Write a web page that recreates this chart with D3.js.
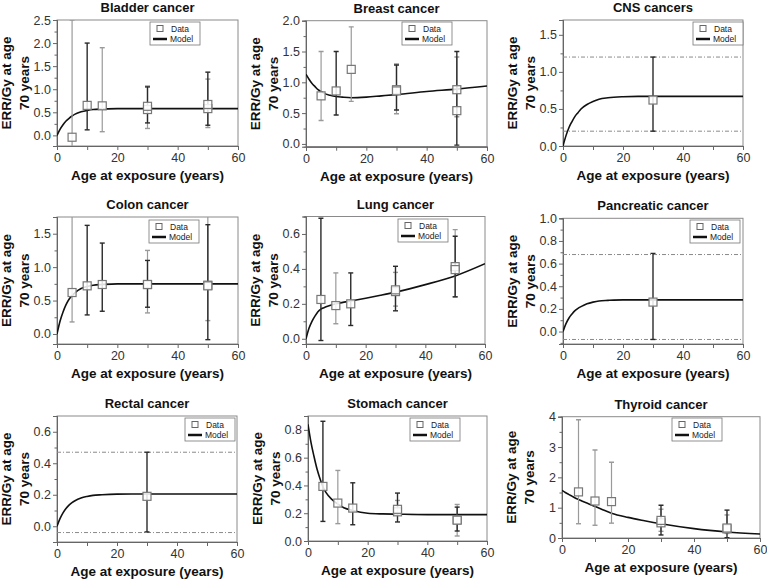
<!DOCTYPE html>
<html><head><meta charset="utf-8">
<script src="https://cdn.jsdelivr.net/npm/d3@7"></script>
<style>
body{margin:0;background:#fff;}
svg{font-family:Arial,"Liberation Sans",sans-serif;}
</style></head>
<body><svg id="c" width="767" height="581"></svg>
<script>
// ---------- DATA ----------
const titles = ["Bladder cancer","Breast cancer","CNS cancers","Colon cancer","Lung cancer","Pancreatic cancer","Rectal cancer","Stomach cancer","Thyroid cancer"];
const xTicks = [0,20,40,60];
const xMinorTicks = [10,30,50];
const modelAges = [0,1,2,3,4,5,6,8,10,12,15,20,25,30,40,50,60];

// points: [age, ERR/Gy, lower, upper, dark(1)/grey(0)]
const bladderPts = [[5,-0.04,-0.6,2.5,0],[10,0.65,0.12,2.0,1],[15,0.64,0.08,1.9,0],[30,0.56,0.15,1.07,0],[30,0.63,0.27,1.05,1],[50,0.58,0.17,1.22,0],[50,0.67,0.22,1.37,1]];
const breastPts = [[5,0.78,0.38,1.5,0],[10,0.86,0.47,1.5,1],[15,1.21,0.69,1.9,0],[30,0.88,0.49,1.30,0],[30,0.86,0.55,1.28,1],[50,0.54,0.44,1.41,0],[50,0.88,-0.02,1.5,1]];
const cnsPts = [[30,0.62,0.2,1.2,1]];
const colonPts = [[5,0.62,0.18,2.0,0],[10,0.72,0.285,1.625,1],[15,0.74,0.34,1.36,1],[30,0.74,0.315,1.25,0],[30,0.74,0.40,1.10,1],[50,0.73,0.20,2.0,0],[50,0.72,-0.085,1.635,1]];
const lungPts = [[5,0.225,-0.01,0.69,1],[10,0.19,0.086,0.377,0],[15,0.20,0.076,0.377,1],[30,0.27,0.187,0.38,0],[30,0.28,0.16,0.415,1],[50,0.413,0.24,0.625,0],[50,0.396,0.24,0.587,1]];
const pancreaticPts = [[30,0.26,-0.07,0.69,1]];
const rectalPts = [[30,0.19,-0.036,0.47,1]];
const stomachPts = [[5,0.393,0.141,0.862,1],[10,0.273,0.125,0.508,0],[15,0.237,0.117,0.419,1],[30,0.21,0.19,0.292,0],[30,0.228,0.137,0.345,1],[50,0.153,0.036,0.263,0],[50,0.15,0.072,0.244,1]];
const thyroidPts = [[5,1.52,0.47,3.9,0],[10,1.22,0.42,2.9,0],[15,1.2,0.49,2.5,0],[30,0.5,0.22,0.95,0],[30,0.58,0.1,1.08,1],[50,0.3,0.15,0.76,0],[50,0.33,0.01,0.92,1]];

// model curves at modelAges
const bladderModel = [0,0.13,0.23,0.31,0.37,0.42,0.46,0.51,0.54,0.56,0.57,0.58,0.58,0.58,0.58,0.58,0.58];
const breastModel = [1.13,1.05,0.98,0.93,0.88,0.85,0.82,0.79,0.77,0.76,0.75,0.76,0.78,0.80,0.85,0.89,0.94];
const cnsModel = [0,0.14,0.25,0.33,0.40,0.45,0.50,0.56,0.60,0.63,0.65,0.665,0.67,0.67,0.67,0.67,0.67];
const colonModel = [0,0.19,0.33,0.44,0.52,0.575,0.62,0.68,0.71,0.73,0.74,0.75,0.75,0.75,0.75,0.75,0.75];
const lungModel = [0,0.06,0.10,0.13,0.155,0.17,0.178,0.19,0.20,0.207,0.216,0.232,0.249,0.267,0.31,0.36,0.43];
const pancreaticModel = [0,0.07,0.12,0.155,0.185,0.205,0.22,0.245,0.26,0.27,0.275,0.28,0.28,0.28,0.28,0.28,0.28];
const rectalModel = [0,0.048,0.085,0.113,0.134,0.150,0.162,0.179,0.189,0.196,0.200,0.204,0.205,0.205,0.205,0.205,0.205];
const stomachModel = [0.84,0.71,0.61,0.52,0.45,0.39,0.35,0.30,0.265,0.24,0.22,0.20,0.195,0.193,0.19,0.19,0.19];
const thyroidModel = [1.57,1.50,1.44,1.38,1.32,1.27,1.22,1.13,1.04,0.95,0.82,0.68,0.57,0.47,0.31,0.20,0.13];

// confidence band reference lines (single-point cancers)
const cnsBand = [1.2,0.2];
const pancreaticBand = [0.68,-0.07];
const rectalBand = [0.47,-0.04];

// y domains and tick labels
const yDomains = [[-0.23,2.5],[-0.045,2.0],[0,1.7],[-0.15,1.75],[-0.03,0.7],[-0.11,1.0],[-0.1,0.7],[0,0.9],[0,4]];
const yTickLabels = [["0.0","0.5","1.0","1.5","2.0","2.5"],["0.0","0.5","1.0","1.5","2.0"],["0.0","0.5","1.0","1.5"],["0.0","0.5","1.0","1.5"],["0.0","0.2","0.4","0.6"],["0.0","0.2","0.4","0.6","0.8","1.0"],["0.0","0.2","0.4","0.6"],["0.0","0.2","0.4","0.6","0.8"],["0","1","2","3","4"]];
const yMinorStep = [0.25,0.25,0.25,0.25,0.1,0.1,0.1,0.1,0.5];

const allPts = [bladderPts,breastPts,cnsPts,colonPts,lungPts,pancreaticPts,rectalPts,stomachPts,thyroidPts];
const allModels = [bladderModel,breastModel,cnsModel,colonModel,lungModel,pancreaticModel,rectalModel,stomachModel,thyroidModel];
const allBands = [null,null,cnsBand,null,null,pancreaticBand,rectalBand,null,null];

// ---------- LAYOUT ----------
const layout = [
  {x0:57,x1:238,top:20,bot:146,lg:[150,22]},
  {x0:306,x1:487,top:20.7,bot:146.7,lg:[402,22]},
  {x0:563,x1:743,top:20,bot:146,lg:[693,22]},
  {x0:57,x1:238,top:217,bot:344,lg:[149,220]},
  {x0:306,x1:485,top:216.5,bot:344,lg:[398,219]},
  {x0:563,x1:743,top:218.3,bot:344,lg:[690,220]},
  {x0:57,x1:237,top:416,bot:542,lg:[185,418]},
  {x0:308,x1:487,top:416,bot:541,lg:[410,418]},
  {x0:562,x1:760,top:416.7,bot:538,lg:[672,418]}
];

const svg = d3.select("#c");
const defs = svg.append("defs");
const GREY = "#9a9a9a", DARK = "#2a2a2a";

titles.forEach((t,i)=>{
  const L = layout[i];
  const g = svg.append("g");
  const x = d3.scaleLinear().domain([0,60]).range([L.x0,L.x1]);
  const y = d3.scaleLinear().domain(yDomains[i]).range([L.bot,L.top]);
  const cx = (L.x0+L.x1)/2, cy=(L.top+L.bot)/2;

  defs.append("clipPath").attr("id","clip"+i).append("rect")
    .attr("x",L.x0).attr("y",L.top).attr("width",L.x1-L.x0).attr("height",L.bot-L.top);

  // frame
  g.append("rect").attr("x",L.x0).attr("y",L.top).attr("width",L.x1-L.x0).attr("height",L.bot-L.top)
    .attr("fill","none").attr("stroke","#8a8a8a").attr("stroke-width",1);

  // axes
  const ax = g.append("g").attr("transform",`translate(0,${L.bot})`)
    .call(d3.axisBottom(x).tickValues(xTicks).tickSize(4).tickPadding(3).tickFormat(d3.format("d")));
  g.append("g").attr("transform",`translate(0,${L.bot})`)
    .call(d3.axisBottom(x).tickValues(xMinorTicks).tickSize(4).tickFormat(""));
  const yv = yTickLabels[i].map(Number);
  const ay = g.append("g").attr("transform",`translate(${L.x0},0)`)
    .call(d3.axisLeft(y).tickValues(yv).tickSize(4).tickPadding(2).tickFormat((d,k)=>yTickLabels[i][k]));
  const [d0,d1] = yDomains[i];
  const minor = [];
  for(let v=Math.ceil(d0/yMinorStep[i]-1e-9)*yMinorStep[i]; v<=d1+1e-9; v+=yMinorStep[i]){
    const r=+v.toFixed(4); if(!yv.some(m=>Math.abs(m-r)<1e-6)) minor.push(r);
  }
  g.append("g").attr("transform",`translate(${L.x0},0)`)
    .call(d3.axisLeft(y).tickValues(minor).tickSize(2.5).tickFormat(""));
  g.selectAll(".domain").attr("stroke","#666");
  g.selectAll(".tick line").attr("stroke","#666");
  g.selectAll(".tick text").attr("font-size","12.5px").attr("fill","#333").attr("font-family","Arial, 'Liberation Sans', sans-serif");

  // title
  g.append("text").attr("x",cx).attr("y",L.top-8).attr("text-anchor","middle")
    .attr("font-size","13px").attr("font-weight","bold").attr("fill","#111").text(t);
  // x label
  g.append("text").attr("x",cx).attr("y",L.bot+34).attr("text-anchor","middle")
    .attr("font-size","13.5px").attr("font-weight","bold").attr("fill","#111").text("Age at exposure (years)");
  // y label
  const yl = g.append("text").attr("transform",`translate(${L.x0-46},${cy}) rotate(-90)`)
    .attr("text-anchor","middle").attr("font-size","13.5px").attr("font-weight","bold").attr("fill","#111");
  yl.append("tspan").attr("x",0).attr("dy",0).text("ERR/Gy at age");
  yl.append("tspan").attr("x",0).attr("dy","1.3em").text("70 years");

  const pg = g.append("g").attr("clip-path",`url(#clip${i})`);

  // band lines
  if(allBands[i]){
    allBands[i].forEach(v=>{
      pg.append("line").attr("x1",L.x0).attr("x2",L.x1).attr("y1",y(v)).attr("y2",y(v))
        .attr("stroke","#8a8a8a").attr("stroke-width",1).attr("stroke-dasharray","4,2,1,2");
    });
  }

  // model line
  const line = d3.line().x(d=>x(d[0])).y(d=>y(d[1])).curve(d3.curveMonotoneX);
  pg.append("path").datum(modelAges.map((a,k)=>[a,allModels[i][k]]))
    .attr("d",line).attr("fill","none").attr("stroke","#111").attr("stroke-width",1.6);

  // error bars (grey first, dark on top)
  const pts = allPts[i].slice().sort((a,b)=>a[4]-b[4]);
  pts.forEach(p=>{
    const col = p[4]?DARK:GREY, px=x(p[0]);
    pg.append("line").attr("x1",px).attr("x2",px).attr("y1",y(p[2])).attr("y2",y(p[3]))
      .attr("stroke",col).attr("stroke-width",p[4]?1.4:1.2);
    [p[2],p[3]].forEach(v=>{
      pg.append("line").attr("x1",px-2.5).attr("x2",px+2.5).attr("y1",y(v)).attr("y2",y(v))
        .attr("stroke",col).attr("stroke-width",1.4);
    });
  });
  // squares
  allPts[i].forEach(p=>{
    pg.append("rect").attr("x",x(p[0])-4).attr("y",y(p[1])-4).attr("width",8).attr("height",8)
      .attr("fill","#fff").attr("fill-opacity",0.85).attr("stroke","#777").attr("stroke-width",1.2);
  });

  // legend
  const [lx,ly] = L.lg;
  const lg = g.append("g");
  lg.append("rect").attr("x",lx).attr("y",ly).attr("width",50).attr("height",23)
    .attr("fill","#fff").attr("stroke","#777").attr("stroke-width",0.8);
  lg.append("rect").attr("x",lx+7).attr("y",ly+3.5).attr("width",6).attr("height",6)
    .attr("fill","#fff").attr("stroke","#666").attr("stroke-width",1);
  lg.append("line").attr("x1",lx+3).attr("x2",lx+17).attr("y1",ly+17).attr("y2",ly+17)
    .attr("stroke","#111").attr("stroke-width",2.5);
  lg.append("text").attr("x",lx+21).attr("y",ly+10).attr("font-size","8.5px").attr("fill","#222").text("Data");
  lg.append("text").attr("x",lx+20).attr("y",ly+20).attr("font-size","8.5px").attr("fill","#222").text("Model");
});
</script></body></html>
